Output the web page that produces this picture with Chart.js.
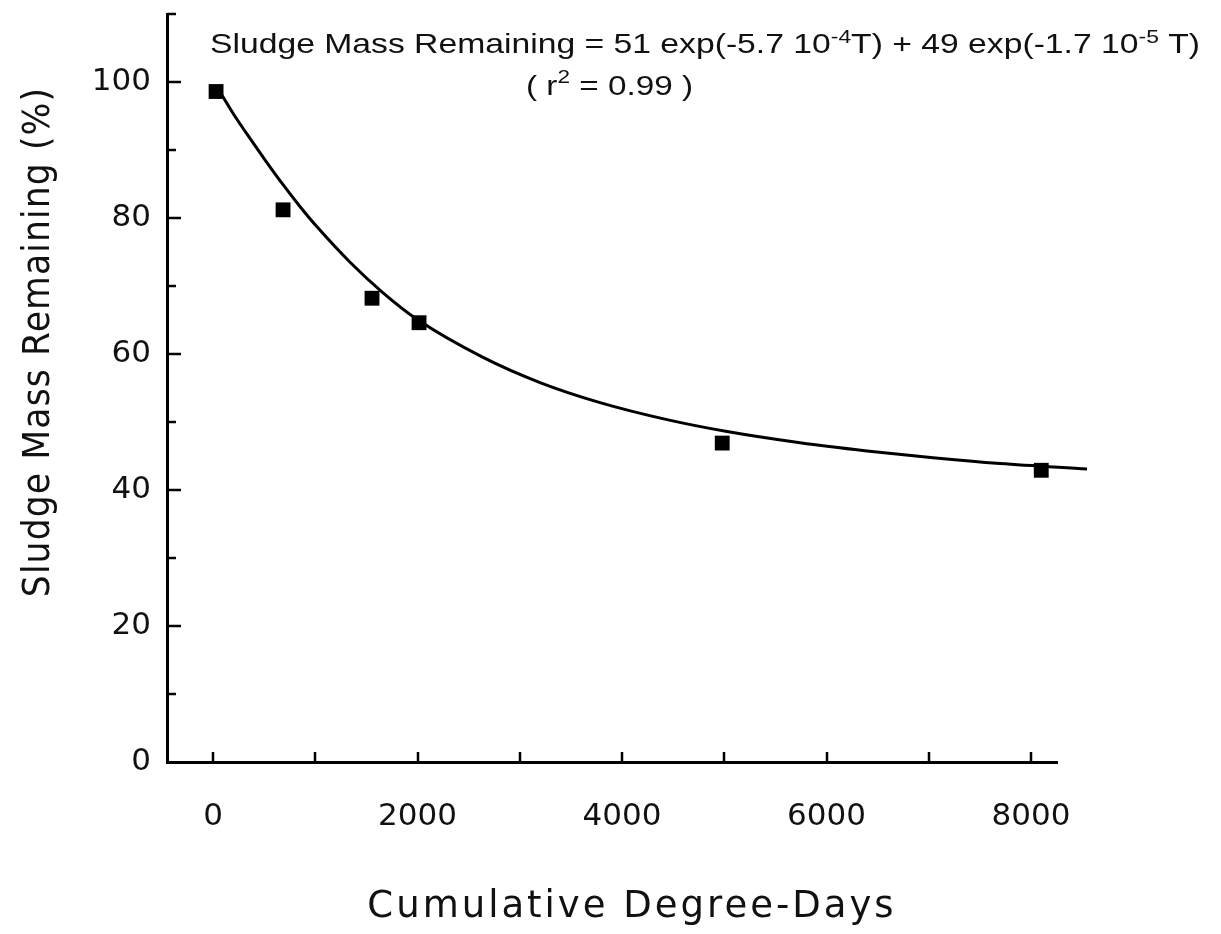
<!DOCTYPE html>
<html><head><meta charset="utf-8">
<script src="https://cdn.jsdelivr.net/npm/chart.js@4.4.1/dist/chart.umd.min.js"></script>
<style>html,body{margin:0;padding:0;background:#fff;} #wrap{width:1221px;height:934px;}</style>
</head><body>
<div id="wrap"><canvas id="c" width="1221" height="934"></canvas></div>
<script>
// ---- data ----
const pointX = [30, 685, 1555, 2015, 4980, 8100];
const pointY = [98.6, 81.2, 68.2, 64.6, 46.9, 42.9];

const curveX = [30, 200, 362, 520, 685, 850, 1017, 1340, 1663, 1995, 2641, 3198, 3785, 4440, 5027, 5741, 6396, 7042, 7697, 8548];
const curveY = [99.5, 95.3, 91.7, 88.3, 84.9, 81.7, 78.7, 73.5, 69.0, 65.1, 59.5, 55.8, 52.85, 50.35, 48.6, 46.95, 45.75, 44.75, 43.9, 43.1];

const xTickLabels = [0, 2000, 4000, 6000, 8000];
const yTickLabels = [0, 20, 40, 60, 80, 100];
const xTickMarks = [0, 1000, 2000, 3000, 4000, 5000, 6000, 7000, 8000];
const yTickMarks = [10, 20, 30, 40, 50, 60, 70, 80, 90, 100, 110];
const yMajorStep = 20;

const xTitle = 'Cumulative Degree-Days';
const yTitle = 'Sludge Mass Remaining (%)';
const eqLine1 = [['Sludge Mass Remaining = 51 exp(-5.7 10', false], ['-4', true], ['T) + 49 exp(-1.7 10', false], ['-5', true], [' T)', false]];
const eqLine2 = [['( r', false], ['2', true], [' = 0.99 )', false]];

// ---- helpers ----
const toXY = (xs, ys) => xs.map((x, i) => ({x: x, y: ys[i]}));

function drawRich(ctx, segs, x, baseline, size, width, raise) {
  const fam = '"Liberation Sans", Arial, Helvetica, sans-serif';
  ctx.save();
  let total = 0;
  const parts = segs.map(([t, sup]) => {
    ctx.font = (sup ? Math.round(size * 0.68) : size) + 'px ' + fam;
    const w = ctx.measureText(t).width;
    total += w;
    return {t, sup, w};
  });
  const sx = width / total;
  ctx.translate(x, baseline);
  ctx.scale(sx, 1);
  ctx.fillStyle = '#111';
  ctx.textAlign = 'left';
  ctx.textBaseline = 'alphabetic';
  let cx = 0;
  parts.forEach(p => {
    ctx.font = (p.sup ? Math.round(size * 0.68) : size) + 'px ' + fam;
    ctx.fillText(p.t, cx, p.sup ? -size * raise : 0);
    cx += p.w;
  });
  ctx.restore();
}

const equationPlugin = {
  id: 'equation',
  afterDraw(chart) {
    const ctx = chart.ctx;
    drawRich(ctx, eqLine1, 210, 53, 28, 990, 0.34);
    drawRich(ctx, eqLine2, 526, 95, 28, 167, 0.42);
  }
};

const tickMarkPlugin = {
  id: 'tickMarks',
  afterDraw(chart) {
    const ctx = chart.ctx;
    const xs = chart.scales.x, ys = chart.scales.y;
    const area = chart.chartArea;
    ctx.save();
    ctx.strokeStyle = '#000';
    ctx.lineWidth = 2.5;
    ctx.beginPath();
    xTickMarks.forEach(v => {
      const px = Math.round(xs.getPixelForValue(v));
      ctx.moveTo(px, area.bottom);
      ctx.lineTo(px, area.bottom - 10);
    });
    yTickMarks.forEach(v => {
      const py = Math.round(ys.getPixelForValue(v));
      const len = (v % yMajorStep === 0) ? 14 : 9;
      ctx.moveTo(area.left, py);
      ctx.lineTo(area.left + len, py);
    });
    ctx.stroke();
    ctx.restore();
  }
};

// letter spacing, small repositioning and squeeze for the axis titles
const titleTweakPlugin = {
  id: 'titleTweak',
  beforeDraw(chart) {
    // [scale id, target centre x, target centre y, letter spacing, squeeze along text]
    const cfg = [['x', 632, null, '3px', 1], ['y', null, 342, '1.2px', 0.935]];
    cfg.forEach(([id, tx, ty, ls, k]) => {
      const s = chart.scales[id];
      if (!s || s._tw) return;
      const orig = s.drawTitle.bind(s);
      s.drawTitle = function () {
        const ctx = chart.ctx;
        const cx = (s.left + s.right) / 2, cy = (s.top + s.bottom) / 2;
        ctx.save();
        if (id === 'x') {
          ctx.translate(tx - cx, 0);
        } else {
          ctx.translate(0, ty);
          ctx.scale(1, k);
          ctx.translate(0, -cy);
        }
        try { ctx.letterSpacing = ls; } catch (e) {}
        orig();
        ctx.restore();
      };
      s._tw = true;
    });
  }
};

const tickFont = {family: '"DejaVu Sans", Verdana, sans-serif', size: 31};
const noPad = s => { s.paddingTop = 0; s.paddingBottom = 0; s.paddingLeft = 0; s.paddingRight = 0; };

new Chart(document.getElementById('c'), {
  type: 'scatter',
  data: {
    datasets: [
      {
        label: 'Fit',
        data: toXY(curveX, curveY),
        showLine: true,
        borderColor: '#000',
        borderWidth: 3,
        pointRadius: 0,
        cubicInterpolationMode: 'monotone',
        clip: false,
        order: 2
      },
      {
        label: 'Measured',
        data: toXY(pointX, pointY),
        showLine: false,
        pointStyle: 'rect',
        pointRadius: 10.5,
        backgroundColor: '#000',
        borderColor: '#000',
        borderWidth: 0,
        order: 1
      }
    ]
  },
  options: {
    responsive: false,
    animation: false,
    devicePixelRatio: 1,
    layout: {padding: {top: 14, right: 164, bottom: 0, left: 0}},
    plugins: {legend: {display: false}, tooltip: {enabled: false}},
    scales: {
      x: {
        type: 'linear',
        min: -450,
        max: 8254,
        afterBuildTicks: s => { s.ticks = xTickLabels.map(v => ({value: v})); },
        afterFit: s => { s.height = 172; noPad(s); },
        grid: {display: false, drawTicks: false},
        border: {display: true, color: '#000', width: 3},
        ticks: {color: '#111', font: tickFont, padding: 36, maxRotation: 0, autoSkip: false,
                callback: v => String(v)},
        title: {display: true, text: xTitle, color: '#111',
                font: {family: '"DejaVu Sans", Verdana, sans-serif', size: 37},
                padding: {top: 0, bottom: 4}}
      },
      y: {
        type: 'linear',
        min: 0,
        max: 110,
        afterBuildTicks: s => { s.ticks = yTickLabels.map(v => ({value: v})); },
        afterFit: s => { s.width = 167; noPad(s); },
        grid: {display: false, drawTicks: false},
        border: {display: true, color: '#000', width: 3},
        ticks: {color: '#111', font: tickFont, padding: 16, autoSkip: false,
                callback: v => String(v)},
        title: {display: true, text: yTitle, color: '#111',
                font: {family: '"DejaVu Sans", Verdana, sans-serif', size: 37},
                padding: {top: 17, bottom: 0}}
      }
    }
  },
  plugins: [titleTweakPlugin, tickMarkPlugin, equationPlugin]
});
</script>
</body></html>
